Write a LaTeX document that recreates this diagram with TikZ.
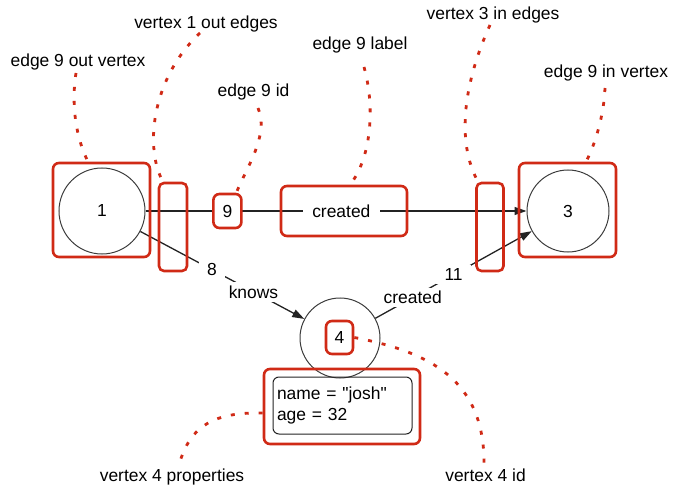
\documentclass[tikz,border=0pt]{standalone}
\usepackage{fontspec}
\setmainfont{Liberation Sans}[Ligatures=TeXOff]
\usetikzlibrary{arrows.meta}
\definecolor{hl}{RGB}{208,42,22}
\definecolor{ink}{RGB}{35,35,35}
\definecolor{ring}{RGB}{60,60,60}
\begin{document}
\begin{tikzpicture}[x=1bp,y=-1bp,
  lbl/.style={font=\fontsize{17.5}{21}\selectfont, text=black, inner sep=0pt},
  vertex/.style={circle, draw=ring, line width=1bp, inner sep=0pt,
                 font=\fontsize{17.5}{21}\selectfont},
  hlbox/.style={draw=hl, line width=2.6bp, rounded corners=6bp, inner sep=0pt},
  idbox/.style={hlbox, fill=white, minimum width=28bp, minimum height=34bp,
                font=\fontsize{17.5}{21}\selectfont},
  propbox/.style={draw=ink, line width=1bp, rounded corners=6bp,
                  minimum width=139bp, minimum height=57bp, text width=131bp,
                  inner xsep=4bp, align=left, font=\fontsize{17.5}{21}\selectfont},
  edge/.style={draw=ink, line width=1.3bp},
  tip/.style={-{Triangle[length=12bp,width=8bp]}},
  elabel/.style={fill=white, inner xsep=8.5bp, inner ysep=3.5bp,
                 font=\fontsize{17.5}{21}\selectfont},
  callout/.style={draw=hl, line width=2.8bp, dash pattern=on 4bp off 10bp},
]
\useasboundingbox (0,0) rectangle (673,489);

% vertices
\node[vertex, minimum size=86bp] (v1) at (102,211) {1};
\node[vertex, minimum size=82bp] (v3) at (568,211) {3};
\node[vertex, minimum size=80bp] (v4) at (340,338) {};

% edges with their labels
\draw[edge, tip] (v1) -- node[idbox, pos=0.215] (e9id) {9}
                         node[elabel, inner xsep=9.5bp, pos=0.514] (e9lbl) {created} (v3);
\draw[edge, tip] (v1) -- node[elabel, pos=0.437] (e8id) {8}
                         node[elabel, inner xsep=3bp, pos=0.69] (e8lbl) {knows} (v4);
\draw[edge, tip] (v4) -- node[elabel, pos=0.239, inner xsep=3bp] (e11lbl) {created}
                         node[elabel, pos=0.5] (e11id) {11} (v3);

% vertex 4 id and properties
\node[idbox, minimum width=27bp, minimum height=33bp] (v4id) at (339.5,337.5) {4};
\node[propbox] (props) at (342.5,405.5) {name = "josh"\\age = 32};

% highlighted parts
\node[hlbox, minimum width=97bp, minimum height=94bp] (v1box) at (101.5,210) {};
\node[hlbox, minimum width=97bp, minimum height=94bp] (v3box) at (567.5,210) {};
\node[hlbox, rounded corners=5bp, minimum width=28bp, minimum height=88bp] (oute) at (173,227) {};
\node[hlbox, rounded corners=5bp, minimum width=27bp, minimum height=88bp] (ine) at (490,227) {};
\node[hlbox, minimum width=126bp, minimum height=50bp] (e9lbox) at (344,211) {};
\node[hlbox, minimum width=156bp, minimum height=75bp] (propred) at (342,406.5) {};

% annotations
\node[lbl, anchor=base] (L1) at (78,67) {edge 9 out vertex};
\node[lbl, anchor=base] (L2) at (206,29) {vertex 1 out edges};
\node[lbl, anchor=base] (L3) at (253.5,97) {edge 9 id};
\node[lbl, anchor=base] (L4) at (360,50) {edge 9 label};
\node[lbl, anchor=base] (L5) at (493,20) {vertex 3 in edges};
\node[lbl, anchor=base] (L6) at (606,78) {edge 9 in vertex};
\node[lbl, anchor=base] (L7) at (485.5,481.5) {vertex 4 id};
\node[lbl, anchor=base] (L8) at (172,481.5) {vertex 4 properties};

% dotted leaders
\draw[callout] ([xshift=-2bp,yshift=-6bp]L1.base) .. controls (71,105) and (76,138) .. ([xshift=-13.5bp]v1box.north);
\draw[callout] ([xshift=-6bp,yshift=-4bp]L2.base) .. controls (150,80) and (145,150) .. ([xshift=-10bp]oute.north);
\draw[callout] ([xshift=4.5bp,yshift=-11bp]L3.base) .. controls (270,135) and (245,170) .. ([xshift=9bp]e9id.north);
\draw[callout] ([xshift=4bp,yshift=-17bp]L4.base) .. controls (376,110) and (370,160) .. ([xshift=6bp]e9lbox.north);
\draw[callout] ([xshift=-3bp,yshift=-5bp]L5.base) .. controls (465,80) and (455,140) .. ([xshift=-12bp]ine.north);
\draw[callout] ([xshift=-1bp,yshift=-10bp]L6.base) .. controls (604,115) and (595,145) .. ([xshift=18.5bp]v3box.north);
\draw[callout] (v4id.east) .. controls (430,352) and (485,380) .. ([xshift=-1.5bp,yshift=16.5bp]L7.base);
\draw[callout] ([yshift=-6.5bp]propred.west) .. controls (215,412) and (190,425) .. ([xshift=7bp,yshift=16.5bp]L8.base);
\end{tikzpicture}
\end{document}
